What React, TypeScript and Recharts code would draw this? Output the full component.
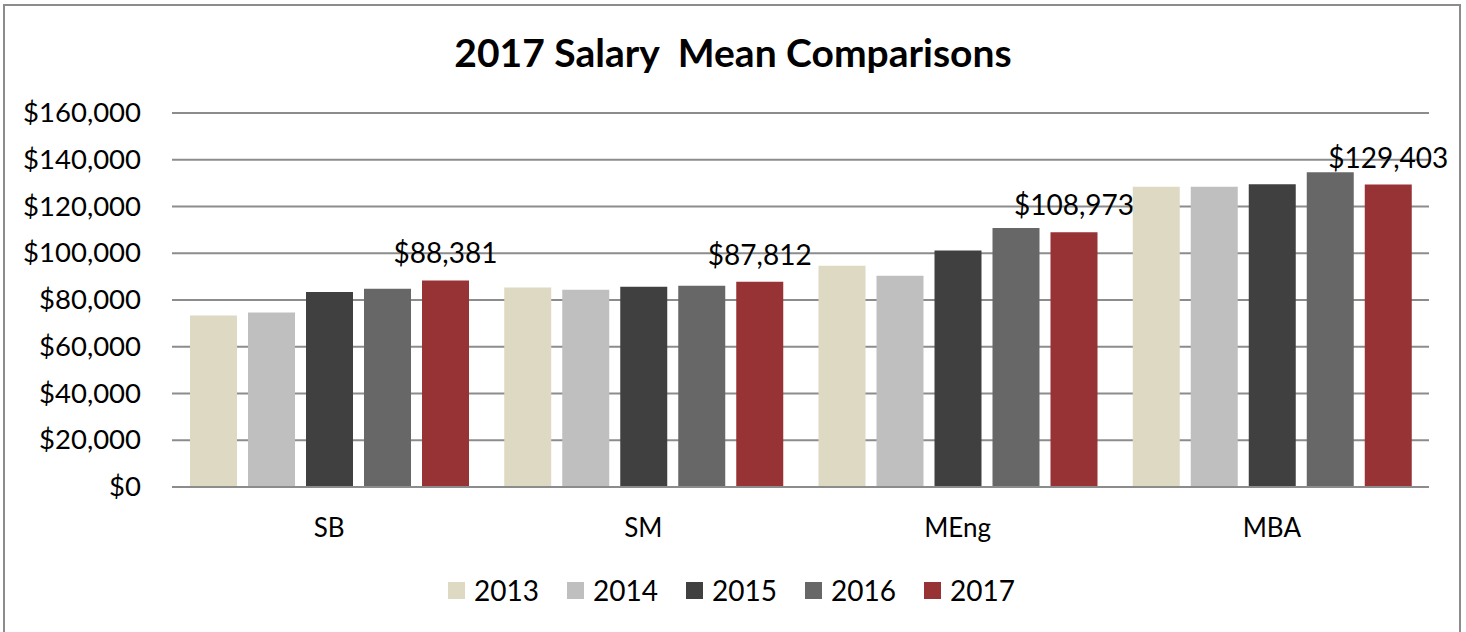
import { BarChart, Bar, XAxis, YAxis, CartesianGrid, Legend, LabelList } from 'recharts'

const programs = ['SB', 'SM', 'MEng', 'MBA']
const years = ['2013', '2014', '2015', '2016', '2017']
const colors = ['#DDD9C3', '#BFBFBF', '#404040', '#676767', '#973235']

const mean2013 = [73400, 85400, 94700, 128500]
const mean2014 = [74700, 84400, 90400, 128500]
const mean2015 = [83400, 85700, 101200, 129500]
const mean2016 = [84800, 86100, 110800, 134700]
const mean2017 = [88381, 87812, 108973, 129403]

const yTicks = [0, 20000, 40000, 60000, 80000, 100000, 120000, 140000, 160000]

const series = [mean2013, mean2014, mean2015, mean2016, mean2017]

const data = programs.map((p, i) => {
  const row: Record<string, any> = { program: p }
  years.forEach((y, j) => {
    row[y] = series[j][i]
  })
  return row
})

const FONT = 'Lato, "Open Sans", sans-serif'

const money = (v: number) => '$' + v.toLocaleString('en-US')

function YTick(props: any) {
  const { y, payload } = props
  return (
    <text x={141} y={y} dy={9} textAnchor="end" fontSize={27.5} fill="#000" fontFamily={FONT}>
      {money(payload.value)}
    </text>
  )
}

// legenda própria: quadrado + ano, centrada
function LegendContent() {
  return (
    <div style={{ display: 'flex', justifyContent: 'center', alignItems: 'center', fontFamily: FONT, fontSize: 28, color: '#000', paddingTop: 16, paddingLeft: 62 }}>
      {years.map((y, i) => (
        <div key={y} style={{ display: 'flex', alignItems: 'center', marginRight: 28 }}>
          <span style={{ width: 17, height: 17, background: colors[i], display: 'inline-block', marginRight: 9 }} />
          <span>{y}</span>
        </div>
      ))}
    </div>
  )
}

export default function App() {
  return (
    <div style={{ position: 'absolute', left: 0, top: 0, width: 1466, height: 632, background: '#fff', overflow: 'hidden' }}>
      <div style={{ position: 'absolute', left: 3, top: 4, width: 1454, height: 640, border: '2px solid #8C8C8C' }} />
      <div style={{ position: 'absolute', left: 0, top: 29, width: 1466, textAlign: 'center', fontFamily: FONT, fontWeight: 700, fontSize: 39, whiteSpace: 'pre', color: '#000' }}>
        2017 Salary  Mean Comparisons
      </div>
      <BarChart
        width={1466}
        height={632}
        data={data}
        margin={{ top: 113, right: 37, left: 0, bottom: 0 }}
        barCategoryGap={18}
        barGap={11}
        style={{ position: 'absolute', left: 0, top: 0 }}
      >
        <CartesianGrid vertical={false} stroke="#8C8C8C" strokeWidth={2} />
        <XAxis
          dataKey="program"
          height={70}
          axisLine={{ stroke: '#8C8C8C', strokeWidth: 2 }}
          tickLine={false}
          tick={{ fontSize: 26, fill: '#000', fontFamily: FONT }}
          tickMargin={26}
        />
        <YAxis
          width={172}
          domain={[0, 160000]}
          ticks={yTicks}
          axisLine={false}
          tickLine={false}
          tick={<YTick />}
        />
        <Legend verticalAlign="bottom" height={75} content={<LegendContent />} />
        {years.map((y, i) => (
          <Bar key={y} dataKey={y} fill={colors[i]} isAnimationActive={false}>
            {y === '2017' && (
              <LabelList
                dataKey={y}
                position="top"
                offset={17}
                formatter={(v: any) => money(v)}
                style={{ fontSize: 28, fill: '#000', fontFamily: FONT }}
              />
            )}
          </Bar>
        ))}
      </BarChart>
    </div>
  )
}
